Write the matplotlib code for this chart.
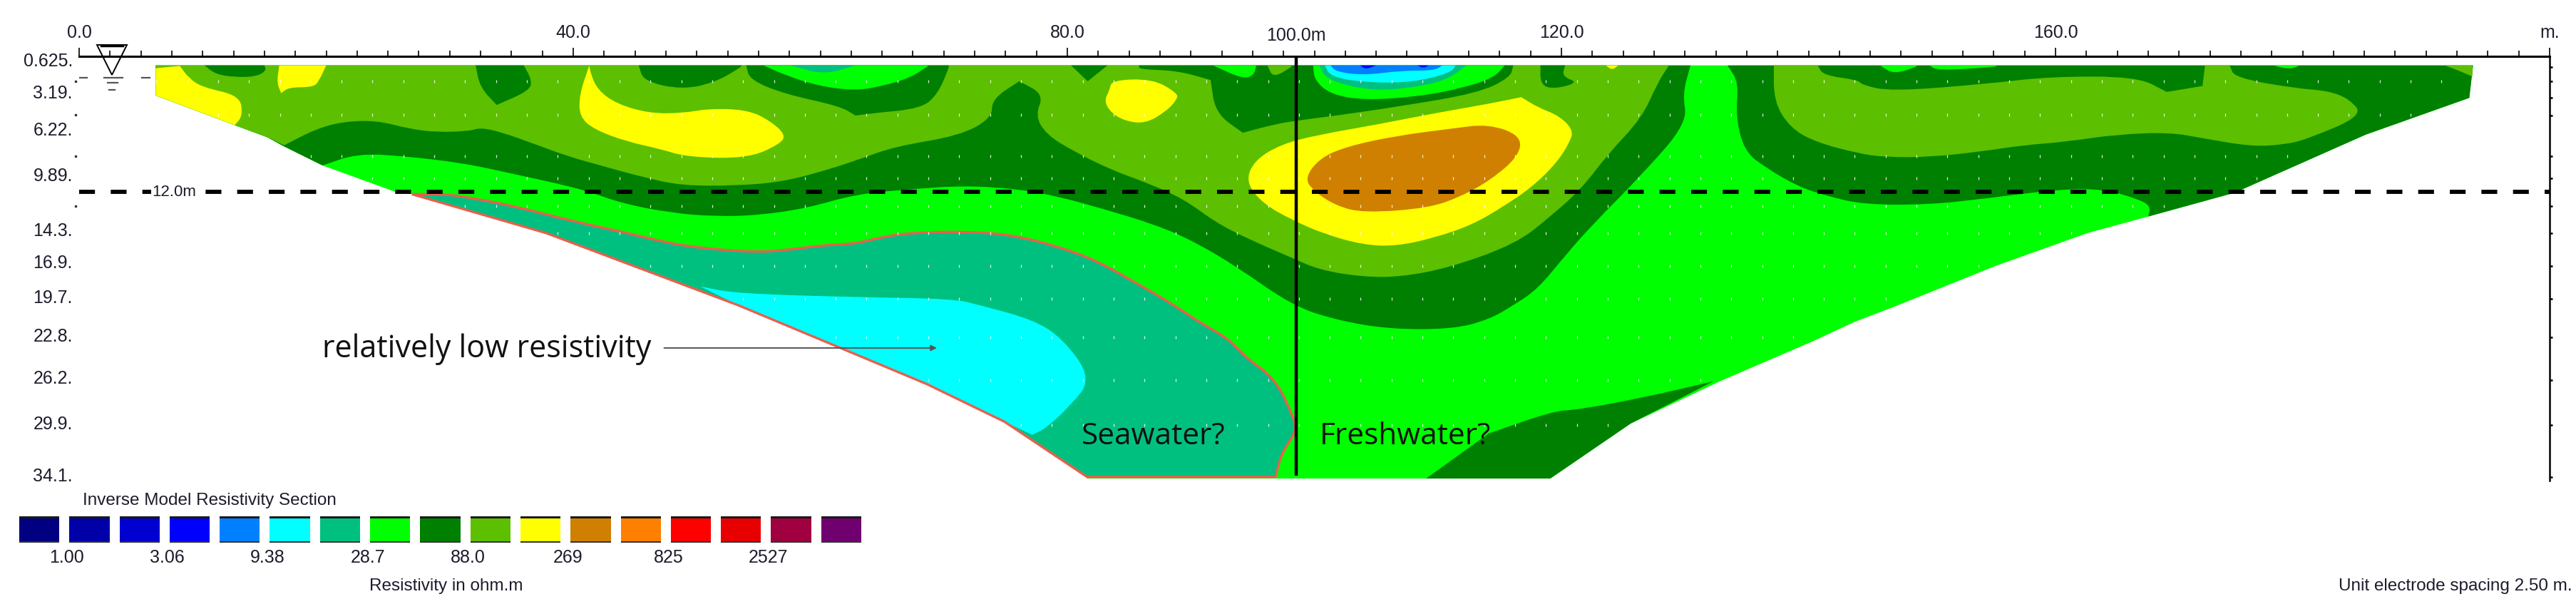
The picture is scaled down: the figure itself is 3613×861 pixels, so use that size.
import numpy as np
import matplotlib
matplotlib.use("Agg")
import matplotlib.pyplot as plt
from matplotlib.path import Path
from matplotlib.patches import PathPatch

plt.rcParams["font.family"] = ["Liberation Sans", "DejaVu Sans"]

# axis readings: distance in m, depth in m
distance_ticks = [0, 40, 80, 120, 160, 200]
distance_labels = ["0.0", "40.0", "80.0", "120.0", "160.0", "m."]
depth_ticks = [0.625, 3.19, 6.22, 9.89, 14.3, 16.9, 19.7, 22.8, 26.2, 29.9, 34.1]
depth_labels = ["0.625.", "3.19.", "6.22.", "9.89.", "14.3.", "16.9.", "19.7.", "22.8.", "26.2.", "29.9.", "34.1."]
right_ticks = [0.74, 1.89, 3.23, 4.66, 7.92, 9.73, 11.93, 14.13, 16.81, 19.43, 22.55, 26.0, 29.63, 33.84]
left_dots = [1.89, 4.6, 7.92, 11.93]
dot_depths = [1.89, 4.6, 7.92, 9.73, 11.93, 14.13, 16.81, 19.43, 22.55, 26.0, 29.63]
centre_line = 98.5
dashed_depth = 10.78

# colour scale
scale_colors = ["#000080", "#0000a8", "#0000d0", "#0000ff", "#0080ff", "#00ffff", "#00c080", "#00ff00",
                "#008000", "#5cbf00", "#ffff00", "#d08000", "#ff8000", "#ff0000", "#e80000", "#a00040", "#700070"]
scale_labels = ["1.00", "3.06", "9.38", "28.7", "88.0", "269", "825", "2527"]
BRIGHT, DARK, LIGHT = "#00ff00", "#008000", "#5cbf00"
YELLOW, BROWN, TEAL, CYAN, SKY, BLUE = "#ffff00", "#d08000", "#00c080", "#00ffff", "#0080ff", "#0000ff"

# contour outlines read from the section, (distance m, depth m)
section = [(6.2, .61), (6.2, 3.04), (12.6, 5.43), (15.2, 6.39), (16.6, 7.15), (19.7, 8.68), (25.8, 10.88), (27.0, 11.0),
           (37.8, 14.13), (53.2, 19.6), (53.4, 19.97), (68.6, 26.3), (74.9, 29.34), (81.5, 33.74), (81.6, 33.93),
           (119.1, 33.93), (125.6, 29.5), (132.8, 26.1), (140.4, 22.84), (143.7, 21.31), (147.2, 19.97), (155.1, 16.8),
           (162.6, 14.13), (167.5, 12.8), (174.5, 10.88), (185.1, 6.2), (193.5, 3.23), (193.8, .61)]

dark_main = [(6.2, .61), (6.2, 3.04), (12.6, 5.43), (15.2, 6.39), (16.6, 7.15), (19.7, 8.68), (22.5, 7.72), (26.3, 7.92),
             (31.15, 8.49), (35.55, 9.45), (38.65, 10.12), (41.3, 10.79), (43.95, 11.74), (47.95, 12.51), (51.45, 12.79),
             (55, 12.7), (58.95, 12.12), (62.85, 11.0), (67.3, 10.59), (71.7, 10.3), (76.1, 10.59), (79.2, 11.17),
             (82.7, 12.12), (87.15, 13.46), (90.25, 14.8), (93.8, 16.9), (98.2, 19.97), (101.65, 21.12), (105.95, 21.88),
             (111.2, 21.88), (114.1, 21.12), (116.1, 19.97), (118.1, 18.63), (120.3, 15.95), (122.5, 13.46), (126.5, 9.45),
             (130.2, 5.24), (129.8, 2.94), (130.45, .61)]
dark_east = [(133.45, .61), (134.35, 1.99), (134.1, 4.66), (134.8, 7.53), (136.55, 8.87), (139.2, 10.4), (141.6, 11.17),
             (144.5, 11.84), (149.8, 11.84), (154.2, 11.36), (160.4, 10.59), (163.9, 10.59), (166.6, 11.36), (167.7, 11.93),
             (167.5, 12.8), (174.5, 10.88), (185.1, 6.2), (193.5, 3.23), (193.8, .61)]
dark_floor = [(109.05, 33.93), (114.1, 30.3), (119.35, 28.48), (121.25, 28.39), (126.5, 27.43), (132.3, 26.09),
              (125.6, 29.5), (119.1, 33.93)]
light_main = [(6.2, .61), (6.2, 3.04), (12.6, 5.43), (15.2, 6.39), (16.6, 7.05), (19.2, 5.72), (21.4, 5.14), (24.1, 5.05),
              (26.7, 5.72), (28.9, 6.0), (31.6, 5.91), (32.5, 5.62), (34.2, 6.0), (36.9, 6.96), (39.5, 7.92), (42.2, 8.68),
              (45.7, 9.64), (48.8, 10.31), (53.2, 10.31), (56.75, 10.02), (59.85, 9.25), (62.85, 8.3), (66, 7.15),
              (71.25, 6.29), (73.9, 4.86), (73.9, 3.32), (76.1, 1.89), (78.1, 2.94), (77.4, 4.66), (78.3, 6.19), (80.5, 7.53),
              (83.6, 9.06), (86.3, 10.02), (89.4, 11.36), (92, 13.27), (94.65, 14.61), (98.2, 16.14), (100.4, 17.1),
              (103.9, 17.67), (107, 17.67), (111, 16.91), (116.3, 15), (119, 12.89), (121.6, 10.59), (123.8, 7.72),
              (126.5, 4.86), (127.8, 1.99), (128.7, .61)]
light_east = [(137.2, .61), (140.75, .61), (141.2, 1.41), (144.05, 1.79), (144.3, 2.18), (146.7, 2.71), (154.65, 2.08),
              (159.5, 1.51), (166.6, 1.51), (169, 2.75), (171.9, 2.27), (172.1, .61), (174.1, .61), (174.5, 1.6), (179.4, 2.46),
              (182.05, 2.65), (183.8, 3.32), (184.9, 4.66), (180.3, 6.58), (178.5, 7.0), (175.85, 7.15), (171.9, 6.48),
              (169.2, 6.0), (164.8, 6.19), (160.85, 6.77), (157.3, 7.05), (154.2, 7.53), (149.8, 8.01), (146.25, 8.01),
              (144.05, 7.72), (140.5, 6.77), (138.5, 5.62), (137.2, 3.52)]
light_corner = [(191.5, .61), (193.75, .61), (193.75, 1.51), (192.65, 1.03)]
light_notch = [(96.2, .61), (96.65, 1.6), (98, .84), (98.2, .61)]

dark_patch_a = [(10.15, .61), (11.04, 1.32), (12.6, 1.56), (14.35, 1.51), (15.15, 1.03), (15, .61)]
dark_patch_b = [(32.1, .61), (32.45, 2.37), (33.8, 3.8), (36.45, 2.65), (36.65, 1.79), (36, .61)]
dark_patch_c = [(45.3, .61), (45.7, 1.89), (48.8, 2.56), (51.45, 1.99), (53.45, .84), (53.65, .61)]
dark_arc = [(54, .61), (54.3, 1.79), (57.2, 2.94), (61.6, 3.9), (62.86, 4.66), (64.2, 4.47), (68.15, 4.09), (69.5, 2.94),
            (70.4, .84), (70.4, .61)]
dark_patch_d = [(80.3, .61), (81.65, 1.89), (83.25, .61)]
dark_mass = [(85.8, .61), (85.8, .93), (88.9, 1.03), (91.6, 1.79), (92, 4.47), (94.2, 6.04), (96.9, 5.33), (98.65, 5.05),
             (101.75, 4.66), (107, 3.9), (113.2, 2.85), (115.85, 1.6), (116.1, .61)]
dark_patch_e = [(118.3, .61), (118.3, 2.18), (119.4, 2.52), (121.4, 1.99), (120.05, 1.51), (120.3, .61)]

bright_arc = [(55.4, .61), (57.2, 1.41), (59.85, 2.27), (62.85, 2.65), (65.05, 2.27), (67.3, 1.6), (68.8, .61)]
bright_notch = [(91.8, .61), (94.2, 1.7), (95.1, 1.41), (95.3, .61)]
bright_ring = [(99.9, .61), (100, 1.79), (101.3, 2.94), (104, 3.42), (108.35, 3.13), (111.9, 2.46), (114.55, 1.6), (115.4, .61)]
bright_top_a = [(145.8, .61), (146.9, 1.32), (148.7, .74), (148.8, .61)]
bright_top_b = [(149.8, .61), (150.45, 1.03), (155.1, .74), (155.3, .61)]
bright_top_c = [(177.6, .61), (178.95, .93), (179.8, .61)]

teal_arc = [(57.6, .61), (60.3, 1.37), (62.85, .61)]
teal_ring = [(100.4, .61), (100.85, 1.6), (103.05, 2.37), (105.7, 2.65), (109.25, 2.18), (111, 1.6), (112.3, .61)]
cyan_ring = [(100.85, .61), (101.3, 1.51), (104, 1.99), (107.9, 1.99), (111, 1.22), (111.45, .61)]
sky_ring = [(101.3, .61), (101.75, 1.12), (104, 1.41), (107, 1.03), (109.7, 1.03), (110.35, .61)]
blue_a = [(103.7, .61), (104.15, .93), (105, .61)]
blue_b = [(108.35, .61), (108.8, .84), (109.25, .61)]

yellow_a = [(6.2, .84), (8.15, .65), (8.85, 1.6), (9.95, 2.37), (13, 3.04), (13.25, 4.66), (12.6, 5.43), (6.2, 3.04)]
yellow_b = [(16.2, .61), (16, 1.99), (16.35, 2.85), (17, 2.37), (19, 2.37), (19.45, 1.79), (20, .61)]
yellow_c = [(41.3, .61), (40.5, 2.94), (40.5, 4.76), (41.75, 5.81), (44.4, 6.77), (47, 7.34), (49.25, 8.01), (54.1, 8.11),
            (56.75, 6.96), (57.2, 6.19), (55.9, 5.05), (54.1, 4.19), (51, 4.09), (48.8, 4.47), (46.15, 4.47), (43.5, 3.71),
            (41.95, 2.56), (41.4, 1.22)]
yellow_d = [(83.6, 1.79), (86.95, 1.7), (88.9, 2.85), (88.9, 3.32), (88.05, 4.28), (86.3, 5.33), (84.5, 5.05), (83.4, 4.28),
            (83, 3.42), (83.4, 2.65)]
yellow_e = [(116.75, 3.17), (118.1, 4), (119.8, 4.66), (120.95, 5.81), (120.7, 6.77), (119.6, 8.49), (117.65, 10.4),
            (115.4, 11.93), (112.8, 13.46), (109.7, 14.52), (106.6, 15.19), (104, 15.09), (100.85, 14.23), (98.2, 13.08),
            (95.8, 11.74), (94.45, 10.02), (95.1, 8.3), (97.3, 6.96), (100.4, 6.19), (104.8, 5.43), (109.7, 4.47), (114.1, 3.71)]
yellow_f = [(123.6, .61), (124.1, .99), (124.6, .61)]
brown = [(114.1, 5.33), (116.75, 6.29), (116.55, 7.92), (114.3, 9.83), (111.9, 11.17), (109.25, 12.12), (104, 12.51),
         (101.75, 11.93), (100, 10.79), (99.2, 9.73), (100.4, 8.11), (102.6, 7.15), (106.6, 6.29), (111, 5.72)]

seawater = [(26.95, 11.0), (29.4, 10.98), (31.6, 11.26), (35.55, 12.03), (39.95, 13.18), (44.4, 14.13), (48.8, 15.19),
            (54.1, 15.66), (56.75, 15.57), (60.3, 15.09), (62.85, 15.0), (65.5, 14.32), (68.6, 14.04), (72.6, 14.04),
            (75.65, 14.32), (79.2, 15.19), (82.3, 16.33), (85.4, 18.05), (88.7, 19.97), (90.65, 21.31), (93.05, 22.65),
            (94.45, 24.18), (96.85, 25.9), (98.3, 28.96), (98.55, 30.11), (97.35, 31.83), (96.85, 33.8), (81.6, 33.8),
            (74.9, 29.34), (68.6, 26.3), (53.4, 19.97), (37.8, 14.13)]
low_zone = [(50.3, 18.44), (53.2, 19.01), (62.85, 19.3), (70.8, 19.43), (73, 19.97), (77.25, 21.12), (79.65, 22.65), (82, 25.9),
            (80.1, 28.2), (78.2, 29.92), (77.15, 30.4), (74.9, 29.34), (68.6, 26.3), (53.4, 19.97)]

# corners that stay sharp in the contours
sharp = set(section) | {(33.8, 3.8), (81.65, 1.89), (94.2, 6.04), (116.75, 3.17), (16.6, 7.05), (26.95, 11.0), (50.3, 18.44),
                        (132.3, 26.09), (193.75, 1.51), (6.2, .84), (76.1, 1.89), (96.85, 33.8), (81.6, 33.8), (77.15, 30.4),
                        (169, 2.75), (171.9, 2.27), (174.1, .61), (91.6, 1.79), (62.86, 4.66), (16.35, 2.85),
                        (109.05, 33.93), (114.1, 30.3)}

layers = [(section, BRIGHT), (dark_main, DARK), (dark_east, DARK), (dark_floor, DARK),
          (light_main, LIGHT), (light_east, LIGHT), (light_corner, LIGHT),
          (dark_patch_a, DARK), (dark_patch_b, DARK), (dark_patch_c, DARK), (dark_arc, DARK),
          (dark_patch_d, DARK), (dark_mass, DARK), (dark_patch_e, DARK),
          (light_notch, LIGHT), (bright_arc, BRIGHT), (bright_notch, BRIGHT), (bright_ring, BRIGHT),
          (bright_top_a, BRIGHT), (bright_top_b, BRIGHT), (bright_top_c, BRIGHT),
          (teal_arc, TEAL), (teal_ring, TEAL), (cyan_ring, CYAN), (sky_ring, SKY), (blue_a, BLUE), (blue_b, BLUE),
          (yellow_a, YELLOW), (yellow_b, YELLOW), (yellow_c, YELLOW), (yellow_d, YELLOW), (yellow_e, YELLOW),
          (yellow_f, YELLOW), (brown, BROWN), (seawater, TEAL), (low_zone, CYAN)]


def contour_path(outline):
    # rounded outline: quadratic curves through edge midpoints, sharp corners stay as they are
    n = len(outline)
    pts = np.array(outline, dtype=float)
    mids = (pts + np.roll(pts, -1, axis=0)) / 2
    verts = [mids[-1]]
    codes = [Path.MOVETO]
    for i in range(n):
        keep = outline[i] in sharp or outline[i][1] <= 0.65
        code = Path.LINETO if keep else Path.CURVE3
        verts += [pts[i], mids[i]]
        codes += [code, code]
    verts.append(mids[-1])
    codes.append(Path.CLOSEPOLY)
    return Path(verts, codes)


W, H = 3613, 862
TEXT = "#1c1c2c"
fig = plt.figure(figsize=(W / 100, H / 100), dpi=100)
ax = fig.add_axes([111 / W, (H - 675) / H, 3465 / W, 595 / H])
ax.set_xlim(0, 200)
ax.set_ylim(34.03, -0.121)

for outline, color in layers:
    ax.add_patch(PathPatch(contour_path(outline), facecolor=color, edgecolor="none", lw=0))
ax.add_patch(PathPatch(contour_path(seawater), facecolor="none", edgecolor="#e8604c", lw=2.4))

# model cell marks
gx, gy = np.meshgrid(np.arange(1.25, 200, 2.5), dot_depths)
grid = np.column_stack([gx.ravel(), gy.ravel()])
grid = grid[Path(section).contains_points(grid)]
ax.scatter(grid[:, 0], grid[:, 1], marker="|", s=12, color="white", linewidths=0.9, alpha=0.85)

ax.axhline(dashed_depth, color="black", lw=4.2, linestyle=(0, (3.8, 3.8)), dash_capstyle="butt")
ax.plot([centre_line, centre_line], [0, 33.7], color="black", lw=3.2, solid_capstyle="butt")

for name in ["left", "bottom"]:
    ax.spines[name].set_visible(False)
ax.spines["top"].set_linewidth(2.2)
ax.spines["right"].set_linewidth(1.8)

ax.xaxis.tick_top()
ax.set_xticks(distance_ticks, distance_labels, fontsize=18, color=TEXT)
ax.set_xticks(np.arange(2.5, 200, 2.5), minor=True)
ax.tick_params(axis="x", which="major", length=8.5, width=1.2, pad=7)
ax.tick_params(axis="x", which="minor", length=5.5, width=1.2)
ax.set_yticks(depth_ticks, depth_labels, fontsize=18, color=TEXT)
ax.set_yticks(right_ticks, minor=True)
ax.tick_params(axis="y", which="major", left=False, right=False, pad=3)
ax.tick_params(axis="y", which="minor", left=False, right=True, length=3, width=1.8)
for lab in ax.get_yticklabels():
    lab.set_verticalalignment("baseline")

ax.text(centre_line, -1.45, "100.0m", ha="center", va="baseline", fontsize=18, color=TEXT, clip_on=False)
ax.text(7.7, dashed_depth, "12.0m", ha="center", va="center", fontsize=16, color=TEXT,
        bbox=dict(facecolor="white", edgecolor="none", pad=1))
ax.plot([-0.3] * len(left_dots), left_dots, ls="none", marker="s", ms=2, color="#333333", clip_on=False)

# water table sign
ax.plot([2.64], [0.17], marker="v", ms=30, mfc="none", mec="black", mew=1.4, clip_on=False)
ax.plot([1.8, 3.5], [-1.0, -1.0], color="black", lw=2.5, clip_on=False)
for x0, x1, d in [(2.0, 3.53, 1.6), (2.3, 3.1, 1.99), (2.43, 2.87, 2.56), (0, 0.66, 1.6), (5.07, 5.74, 1.6)]:
    ax.plot([x0, x1], [d, d], color="#555555", lw=1.6)

# annotations
ax.annotate("", xy=(69.6, 23.4), xytext=(47.2, 23.4),
            arrowprops=dict(arrowstyle="-|>", color="#555555", lw=1.4, mutation_scale=12))
ax.text(19.7, 24.1, "relatively low resistivity", ha="left", va="baseline", family=["Open Sans", "DejaVu Sans"],
        fontsize=31, color="#111111")
ax.text(81.15, 31.1, "Seawater?", ha="left", va="baseline", family=["Open Sans", "DejaVu Sans"],
        fontsize=30.5, color="#111111")
ax.text(100.4, 31.1, "Freshwater?", ha="left", va="baseline", family=["Open Sans", "DejaVu Sans"],
        fontsize=30.5, color="#111111")

# colour scale
cax = fig.add_axes([27 / W, (H - 762) / H, 1181 / W, 37 / H])
pos = np.arange(len(scale_colors))
cax.bar(pos, 1, width=0.8, color=scale_colors)
cax.bar(pos, 0.09, bottom=0.91, width=0.8, color="#1a1a1a")
cax.bar(pos, 0.06, width=0.8, color="#333333")
cax.set_xlim(-0.4, 16.4)
cax.set_ylim(0, 1)
cax.set_yticks([])
cax.set_xticks(pos[:len(scale_labels)] * 2 + 0.55, scale_labels, fontsize=18, color=TEXT)
cax.tick_params(axis="x", length=0, pad=6)
for sp in cax.spines.values():
    sp.set_visible(False)

fig.text(116 / W, 1 - 702 / H, "Inverse Model Resistivity Section", ha="left", va="center", fontsize=17.5, color=TEXT)
fig.text(626 / W, 1 - 822 / H, "Resistivity in ohm.m", ha="center", va="center", fontsize=17.5, color=TEXT)
fig.text(3608 / W, 1 - 822 / H, "Unit electrode spacing 2.50 m.", ha="right", va="center", fontsize=17.5, color=TEXT)

fig.savefig("out.png", dpi=100)
